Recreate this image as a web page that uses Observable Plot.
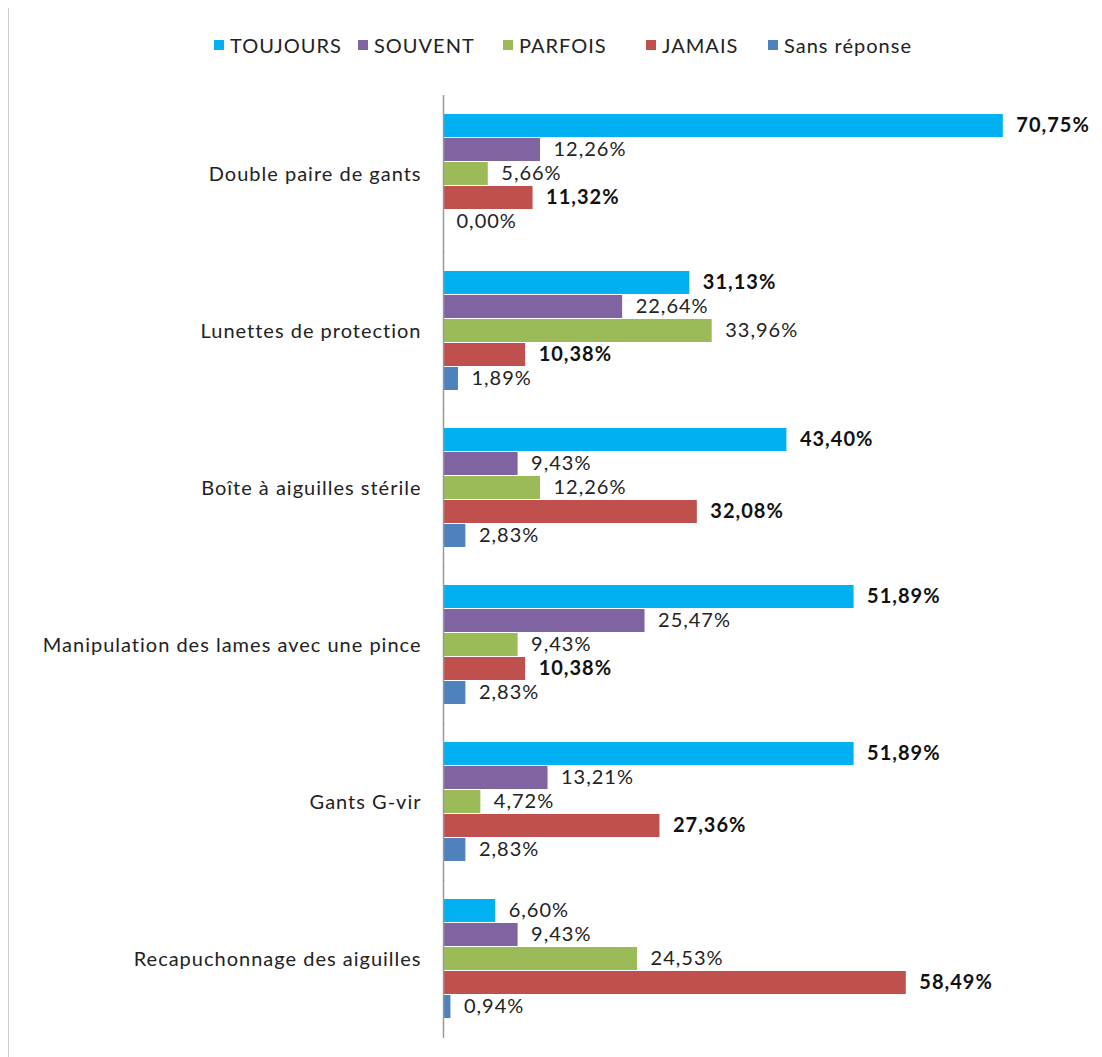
<!DOCTYPE html>
<html>
<head>
<meta charset="utf-8">
<script src="https://cdn.jsdelivr.net/npm/d3@7"></script>
<script src="https://cdn.jsdelivr.net/npm/@observablehq/plot@0.6"></script>
<style>
  body { margin: 0; background: #fff; font-family: Lato, sans-serif; }
  #wrap { position: relative; width: 1102px; height: 1057px; }
  #edge { position: absolute; left: 8px; top: 8px; bottom: 0; width: 1px; background: #ccc; }
  #legend { height: 70px; display: flex; justify-content: flex-start; align-items: center; padding-top: 20px; box-sizing: border-box; padding-left: 214px; font-size: 20px; letter-spacing: 1px; color: #222; }
  .item { display: flex; align-items: center; flex: none; }
  .sw { width: 10px; height: 10px; margin-right: 6px; }
  #chart svg text { letter-spacing: 1px; }
</style>
</head>
<body>
<div id="wrap">
  <div id="edge"></div>
  <div id="legend"></div>
  <div id="chart"></div>
</div>
<script>
const categories = ["Double paire de gants", "Lunettes de protection", "Boîte à aiguilles stérile", "Manipulation des lames avec une pince", "Gants G-vir", "Recapuchonnage des aiguilles"];
const series = ["TOUJOURS", "SOUVENT", "PARFOIS", "JAMAIS", "Sans réponse"];
const toujours = [70.75, 31.13, 43.40, 51.89, 51.89, 6.60];
const souvent = [12.26, 22.64, 9.43, 25.47, 13.21, 9.43];
const parfois = [5.66, 33.96, 12.26, 9.43, 4.72, 24.53];
const jamais = [11.32, 10.38, 32.08, 10.38, 27.36, 58.49];
const sansReponse = [0.00, 1.89, 2.83, 2.83, 2.83, 0.94];
const colors = ["#00B0F0", "#8064A2", "#9BBB59", "#C0504D", "#4F81BD"];
const boldSeries = ["TOUJOURS", "JAMAIS"];

const valuesBySeries = [toujours, souvent, parfois, jamais, sansReponse];
const data = [];
categories.forEach((c, i) => {
  series.forEach((s, j) => {
    data.push({category: c, series: s, value: valuesBySeries[j][i]});
  });
});
const isBold = d => boldSeries.includes(d.series) && d.value >= 10;

const fmt = d => d3.format(".2f")(d.value).replace(".", ",") + "%";

// legend
const legendSlots = [144, 145, 143, 122, null];
const legend = document.getElementById("legend");
series.forEach((s, j) => {
  const it = document.createElement("div");
  it.className = "item";
  if (legendSlots[j]) it.style.width = legendSlots[j] + "px";
  const sw = document.createElement("div");
  sw.className = "sw";
  sw.style.background = colors[j];
  const t = document.createElement("span");
  t.textContent = s;
  it.appendChild(sw); it.appendChild(t);
  legend.appendChild(it);
});

const chart = Plot.plot({
  width: 1102,
  height: 987,
  marginTop: 25,
  marginBottom: 20,
  marginLeft: 443,
  marginRight: 26,
  style: {fontFamily: "Lato, sans-serif", fontSize: "20px", color: "#222", background: "transparent"},
  x: {domain: [0, 80], axis: null},
  y: {domain: series, axis: null, paddingInner: 0.03, paddingOuter: 0},
  fy: {domain: categories, axis: "left", paddingInner: 0.226, paddingOuter: 0.113, label: null, tickSize: 0, tickPadding: 22},
  color: {domain: series, range: colors},
  marks: [
    Plot.barX(data, {x: "value", y: "series", fy: "category", fill: "series"}),
    Plot.ruleX([0], {stroke: "#999", strokeWidth: 1.5, insetTop: -18, insetBottom: -18}),
    Plot.text(data.filter(d => !isBold(d)), {x: "value", y: "series", fy: "category", text: fmt, dx: 13, textAnchor: "start", fill: "#222"}),
    Plot.text(data.filter(isBold), {x: "value", y: "series", fy: "category", text: fmt, dx: 13, textAnchor: "start", fill: "#111", fontWeight: "bold"})
  ]
});
document.getElementById("chart").appendChild(chart);
</script>
</body>
</html>
